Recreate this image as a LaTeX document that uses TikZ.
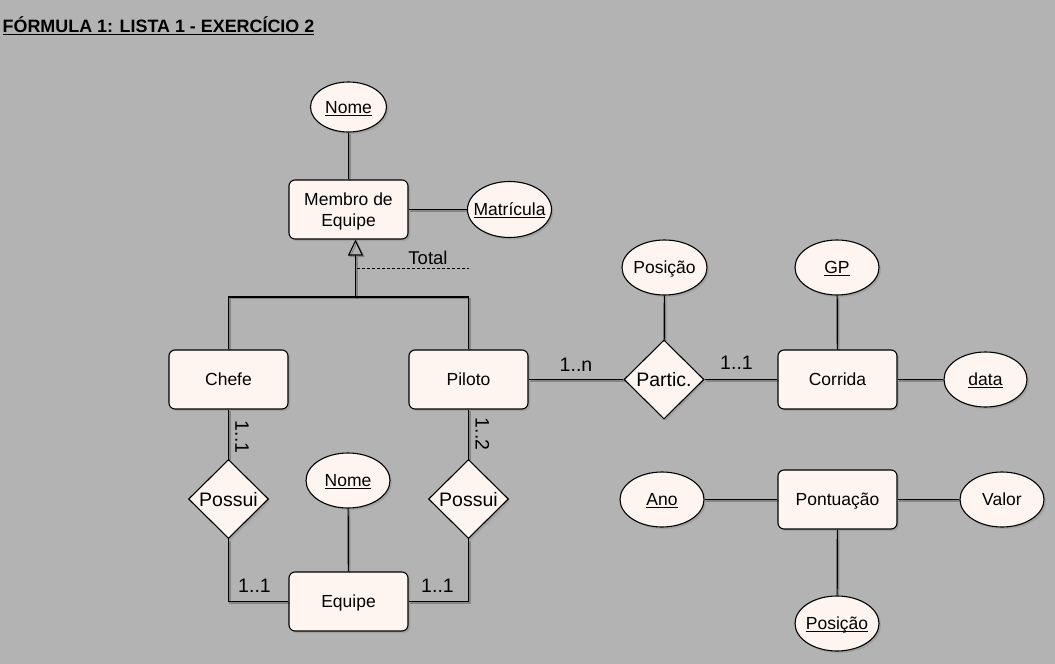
\documentclass[tikz,border=0pt]{standalone}
\usepackage{fontspec}
\setmainfont{Liberation Sans}
\usetikzlibrary{shapes.geometric,arrows.meta,shadows}
\definecolor{bgc}{HTML}{B3B3B3}
\definecolor{nfill}{HTML}{FFF5F0}
\newsavebox\zubox
\newcommand\zu[1]{\sbox\zubox{#1}\rlap{\rule[-2.6pt]{\wd\zubox}{1.1pt}}\usebox\zubox}
\newcommand\zt[1]{\makebox[0pt]{#1}}
\tikzset{
  shd/.style={drop shadow={opacity=0.35,shadow xshift=2pt,shadow yshift=-2pt}},
  ent/.style={draw,line width=1.1pt,fill=nfill,rounded corners=6pt,shd,
    minimum width=119pt,minimum height=59pt,inner sep=0pt,
    text height=12.6pt,text depth=0pt,
    font=\fontsize{17.5}{21}\selectfont},
  attr/.style={ellipse,draw,line width=1.1pt,fill=nfill,shd,
    minimum width=84pt,minimum height=55pt,inner sep=0pt,
    text height=12.6pt,text depth=0pt,font=\fontsize{17.5}{21}\selectfont},
  rel/.style={diamond,draw,line width=1.1pt,fill=nfill,shd,
    minimum width=80pt,minimum height=79pt,inner sep=0pt,
    text height=14pt,text depth=0pt,font=\fontsize{19.5}{22}\selectfont},
  conn/.style={line width=1.2pt,
    preaction={draw,black,opacity=0.25,line width=1.2pt,transform canvas={xshift=1.5pt,yshift=-1.5pt}}},
  card/.style={inner sep=0pt,font=\fontsize{19.5}{22}\selectfont},
}
\begin{document}
\begin{tikzpicture}[x=1pt,y=-1pt]
\useasboundingbox (0,0) rectangle (1055,664);
\fill[bgc] (0,0) rectangle (1055,664);

% title
\node[anchor=west,inner sep=0pt,font=\bfseries\fontsize{17.9}{21}\selectfont] (title) at (2.5,26) {\zu{FÓRMULA 1: LISTA 1 - EXERCÍCIO 2}};

% entities
\node[ent,text height=33.6pt] (membro) at (348.5,209.5) {\smash{\begin{tabular}[b]{@{}c@{}}Membro de\\Equipe\end{tabular}}};
\node[ent] (chefe) at (228.5,379.5) {Chefe};
\node[ent] (piloto) at (468.5,379.5) {Piloto};
\node[ent] (corrida) at (837.5,379.5) {Corrida};
\node[ent] (equipe) at (348.5,601.5) {Equipe};
\node[ent] (pont) at (837.5,499.5) {Pontuação};

% attributes
\node[attr,minimum width=76pt,minimum height=50pt] (nome1) at (348.5,107) {\zt{\zu{Nome}}};
\node[attr,minimum width=84pt,minimum height=56pt] (matr) at (509.5,209.5) {\zt{\zu{Matrícula}}};
\node[attr,minimum width=85pt] (pos1) at (664.5,267.5) {\zt{Posição}};
\node[attr] (gp) at (837,267.5) {\zt{\zu{GP}}};
\node[attr,minimum width=83pt] (data) at (985.5,379.5) {\zt{\zu{data}}};
\node[attr] (nome2) at (348,480.5) {\zt{\zu{Nome}}};
\node[attr] (ano) at (662,499.5) {\zt{\zu{Ano}}};
\node[attr] (valor) at (1002,499.5) {\zt{Valor}};
\node[attr] (pos2) at (837,623.5) {\zt{\zu{Posição}}};

% relationships
\node[rel] (partic) at (664,379.5) {\zt{Partic.}};
\node[rel] (possui1) at (228.5,499) {\zt{Possui}};
\node[rel] (possui2) at (468.5,499) {\zt{Possui}};

% connectors
\draw[conn] (nome1) -- (membro);
\draw[conn] (membro) -- (matr);
\draw[conn] (piloto) -- (partic);
\draw[conn] (partic) -- (corrida);
\draw[conn] (pos1) -- (partic);
\draw[conn] (gp) -- (corrida);
\draw[conn] (corrida) -- (data);
\draw[conn] (ano) -- (pont);
\draw[conn] (pont) -- (valor);
\draw[conn] (pont) -- (pos2);
\draw[conn] (nome2) -- (equipe);
\draw[conn] (chefe) -- (possui1);
\draw[conn] (piloto) -- (possui2);
\draw[conn] (possui1.south) |- (equipe.west);
\draw[conn] (equipe.east) -| (possui2.south);

% generalization
\coordinate (j) at (355.5,297);
\draw[conn] (chefe.north) |- (j) -| (piloto.north);
\draw[conn,-{Triangle[open,length=16pt,width=15pt,line width=1.1pt]}] (j) -- (membro.south -| j);
\coordinate (d1) at (357,268);
\coordinate (d2) at (469,268);
\draw[line width=0.9pt,dash pattern=on 3pt off 2pt] (d1) -- (d2);
\node[inner sep=0pt,font=\fontsize{18.5}{22}\selectfont] (total) at (428,258) {Total};

% cardinalities
\node[card] (c1) at (576,365) {1..n};
\node[card] (c2) at (736.5,362.5) {1..1};
\node[card,rotate=-90] (c3) at (242,437) {1..1};
\node[card,rotate=-90] (c4) at (482.5,434) {1..2};
\node[card] (c5) at (254.5,586) {1..1};
\node[card] (c6) at (437.5,586) {1..1};
\end{tikzpicture}
\end{document}
